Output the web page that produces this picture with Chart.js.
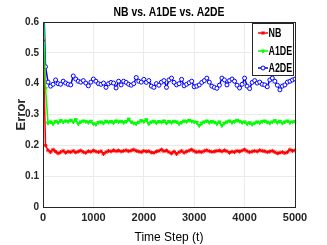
<!DOCTYPE html>
<html>
<head>
<meta charset="utf-8">
<script src="https://cdn.jsdelivr.net/npm/chart.js@4.4.0/dist/chart.umd.min.js"></script>
<style>
  html, body { margin: 0; padding: 0; background: #fff; }
  #wrap { width: 327px; height: 245px; position: relative; }
</style>
</head>
<body>
<div id="wrap"><canvas id="errChart"></canvas></div>
<script>
// Time steps: one sample every 50 steps, 0..5000
const timeSteps = Array.from({ length: 101 }, (_, i) => i * 50);

const nbError = [
  0.540, 0.200, 0.184, 0.178, 0.186, 0.180, 0.174, 0.178, 0.182, 0.176,
  0.180, 0.178, 0.182, 0.177, 0.180, 0.183, 0.178, 0.176, 0.181, 0.179,
  0.183, 0.180, 0.178, 0.181, 0.172, 0.178, 0.182, 0.180, 0.184, 0.181,
  0.183, 0.180, 0.182, 0.184, 0.181, 0.183, 0.186, 0.182, 0.180, 0.178,
  0.182, 0.180, 0.181, 0.177, 0.176, 0.180, 0.182, 0.186, 0.181, 0.183,
  0.178, 0.174, 0.180, 0.172, 0.178, 0.182, 0.176, 0.180, 0.183, 0.186,
  0.181, 0.178, 0.180, 0.178, 0.182, 0.184, 0.181, 0.179, 0.180, 0.182,
  0.183, 0.180, 0.184, 0.181, 0.176, 0.180, 0.178, 0.182, 0.180, 0.183,
  0.186, 0.181, 0.178, 0.180, 0.182, 0.180, 0.184, 0.182, 0.181, 0.178,
  0.180, 0.182, 0.178, 0.174, 0.176, 0.178, 0.175, 0.178, 0.186, 0.182,
  0.184
];

const a1deError = [
  0.700, 0.385, 0.272, 0.276, 0.270, 0.278, 0.274, 0.280, 0.276, 0.279,
  0.277, 0.281, 0.276, 0.283, 0.270, 0.276, 0.279, 0.277, 0.274, 0.278,
  0.270, 0.268, 0.274, 0.276, 0.272, 0.278, 0.275, 0.277, 0.273, 0.279,
  0.276, 0.278, 0.274, 0.277, 0.285, 0.276, 0.272, 0.270, 0.275, 0.280,
  0.277, 0.283, 0.270, 0.276, 0.278, 0.273, 0.277, 0.275, 0.279, 0.272,
  0.277, 0.274, 0.278, 0.276, 0.270, 0.274, 0.279, 0.277, 0.281, 0.278,
  0.276, 0.274, 0.264, 0.272, 0.276, 0.279, 0.274, 0.277, 0.275, 0.270,
  0.276, 0.264, 0.272, 0.276, 0.279, 0.274, 0.277, 0.281, 0.278, 0.274,
  0.276, 0.270, 0.273, 0.268, 0.272, 0.276, 0.273, 0.277, 0.279, 0.275,
  0.272, 0.276, 0.280, 0.274, 0.278, 0.272, 0.276, 0.279, 0.274, 0.276,
  0.278
];

const a2deError = [
  0.750, 0.455, 0.405, 0.392, 0.398, 0.412, 0.400, 0.398, 0.408, 0.402,
  0.398, 0.396, 0.425, 0.415, 0.408, 0.405, 0.410, 0.402, 0.393, 0.405,
  0.415, 0.408, 0.400, 0.398, 0.402, 0.388, 0.400, 0.404, 0.402, 0.386,
  0.408, 0.396, 0.408, 0.404, 0.398, 0.395, 0.400, 0.420, 0.408, 0.405,
  0.414, 0.404, 0.410, 0.392, 0.388, 0.400, 0.395, 0.405, 0.410, 0.388,
  0.412, 0.418, 0.404, 0.396, 0.400, 0.414, 0.393, 0.398, 0.403, 0.408,
  0.390, 0.392, 0.396, 0.404, 0.410, 0.418, 0.405, 0.392, 0.388, 0.385,
  0.395, 0.418, 0.412, 0.396, 0.410, 0.415, 0.408, 0.395, 0.386, 0.398,
  0.418, 0.392, 0.384, 0.404, 0.410, 0.402, 0.405, 0.398, 0.396, 0.390,
  0.412, 0.418, 0.408, 0.395, 0.380, 0.392, 0.396, 0.405, 0.408, 0.412,
  0.415
];

const seriesLabels = ['NB', 'A1DE', 'A2DE'];
const titleText = 'NB vs. A1DE vs. A2DE';

function toPoints(values) {
  return values.map((v, i) => ({ x: timeSteps[i], y: v }));
}

// draw text squeezed horizontally (the reference uses a condensed face)
function narrowText(ctx, text, x, y, squeeze) {
  ctx.save();
  ctx.translate(x, y);
  ctx.scale(squeeze, 1);
  ctx.fillText(text, 0, 0);
  ctx.restore();
}

// Box around the axes, title over the plot area and a MATLAB-like legend inside it
const matlabBox = {
  id: 'matlabBox',
  afterDraw(chart) {
    const ctx = chart.ctx;
    const a = chart.chartArea;
    ctx.save();
    ctx.strokeStyle = '#262626';
    ctx.lineWidth = 1;
    ctx.strokeRect(Math.round(a.left) + 0.5, Math.round(a.top) + 0.5,
      Math.round(a.right - a.left), Math.round(a.bottom - a.top));

    // title
    ctx.fillStyle = '#000';
    ctx.font = 'bold 13px "Liberation Sans", sans-serif';
    ctx.textAlign = 'center';
    ctx.textBaseline = 'middle';
    narrowText(ctx, titleText, (a.left + a.right) / 2, 12, 0.8);

    // legend
    const lx = 252, ly = 23, lw = 41, lh = 52;
    ctx.fillStyle = '#fff';
    ctx.fillRect(lx, ly, lw, lh);
    ctx.strokeStyle = '#262626';
    ctx.strokeRect(lx + 0.5, ly + 0.5, lw, lh);
    const rows = [33, 51, 68];
    chart.data.datasets.forEach((ds, k) => {
      const y = rows[k];
      ctx.strokeStyle = ds.borderColor;
      ctx.lineWidth = 1.5;
      ctx.beginPath();
      ctx.moveTo(258, y);
      ctx.lineTo(268, y);
      ctx.stroke();
      ctx.fillStyle = ds.backgroundColor;
      ctx.lineWidth = 1;
      Chart.helpers.drawPoint(ctx, {
        pointStyle: ds.pointStyle,
        radius: ds.pointRadius,
        rotation: ds.pointRotation || 0,
        borderWidth: 1
      }, 263, y);
      ctx.fillStyle = '#000';
      ctx.font = 'bold 12px "Liberation Sans", sans-serif';
      ctx.textAlign = 'left';
      narrowText(ctx, ds.label, 268.5, y + 1, 0.74);
    });
    ctx.restore();
  }
};

const ctx = document.getElementById('errChart').getContext('2d');
new Chart(ctx, {
  type: 'line',
  data: {
    datasets: [
      {
        label: seriesLabels[0],
        data: toPoints(nbError),
        borderColor: '#ff0000',
        backgroundColor: '#ff0000',
        pointStyle: 'star',
        pointRadius: 2,
        pointBorderWidth: 1,
        borderWidth: 1.5
      },
      {
        label: seriesLabels[1],
        data: toPoints(a1deError),
        borderColor: '#00ff00',
        backgroundColor: '#00ff00',
        pointStyle: 'triangle',
        pointRotation: 180,
        pointRadius: 2,
        pointBorderWidth: 1,
        borderWidth: 1.5
      },
      {
        label: seriesLabels[2],
        data: toPoints(a2deError),
        borderColor: '#0000ff',
        backgroundColor: '#ffffff',
        pointStyle: 'circle',
        pointRadius: 2,
        pointBorderWidth: 1,
        borderWidth: 1.5
      }
    ]
  },
  options: {
    responsive: true,
    maintainAspectRatio: false,
    animation: false,
    layout: { padding: { top: 22, right: 32, left: 0, bottom: 0 } },
    plugins: {
      legend: { display: false },
      title: { display: false },
      tooltip: { enabled: false }
    },
    scales: {
      x: {
        type: 'linear',
        min: 0,
        max: 5000,
        ticks: {
          stepSize: 1000,
          color: '#262626',
          font: { family: '"Liberation Sans", sans-serif', size: 11, weight: 'bold' },
          padding: 4,
          maxRotation: 0,
          callback: value => String(value)
        },
        grid: { color: '#ebebeb', tickLength: 0 },
        border: { display: false },
        title: {
          display: true,
          text: 'Time Step (t)',
          color: '#000',
          font: { family: '"Liberation Sans", sans-serif', size: 12 },
          padding: { top: 2, bottom: 0 }
        },
        afterFit(scale) { scale.height = 38; }
      },
      y: {
        min: 0,
        max: 0.6,
        ticks: {
          stepSize: 0.1,
          color: '#262626',
          font: { family: '"Liberation Sans", sans-serif', size: 10, weight: 'bold' },
          padding: 4
        },
        grid: { color: '#ebebeb', tickLength: 0 },
        border: { display: false },
        title: {
          display: true,
          text: 'Error',
          color: '#262626',
          font: { family: '"Liberation Sans", sans-serif', size: 13, weight: 'bold' },
          padding: { top: 14, bottom: 0 }
        },
        afterFit(scale) { scale.width = 43; }
      }
    }
  },
  plugins: [matlabBox]
});
</script>
</body>
</html>
